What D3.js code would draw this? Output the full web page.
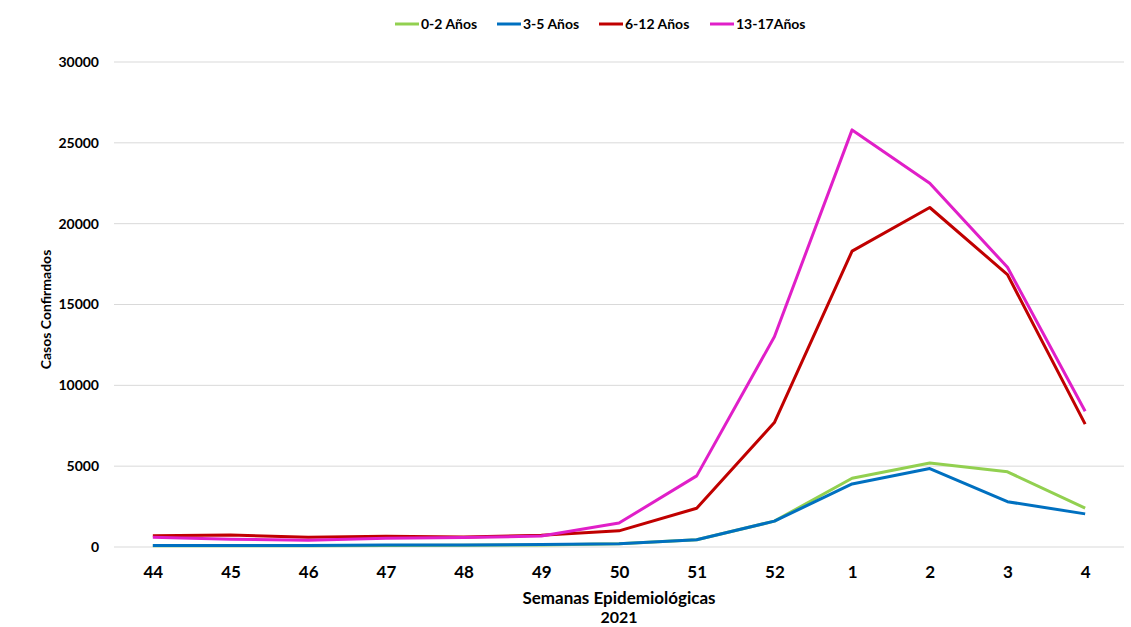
<!DOCTYPE html>
<html>
<head>
<meta charset="utf-8">
<script src="https://cdn.jsdelivr.net/npm/d3@7"></script>
<style>
  html, body { margin: 0; padding: 0; background: #fff; }
  svg { display: block; font-family: Lato, "Open Sans", sans-serif; font-weight: 700; }
</style>
</head>
<body>
<svg id="chart" width="1131" height="627"></svg>
<script>
const weeks = ["44","45","46","47","48","49","50","51","52","1","2","3","4"];
const seriesNames = ["0-2 Años","3-5 Años","6-12 Años","13-17Años"];
const seriesColors = ["#92D050","#0070C0","#C00000","#E01FC8"];
const age0_2   = [80, 80, 80, 100, 110, 130, 200, 450, 1600, 4250, 5200, 4650, 2400];
const age3_5   = [100, 100, 100, 120, 130, 150, 200, 450, 1600, 3900, 4850, 2800, 2050];
const age6_12  = [700, 740, 600, 660, 620, 730, 1000, 2400, 7700, 18300, 21000, 16850, 7600];
const age13_17 = [600, 480, 420, 540, 580, 680, 1480, 4400, 13000, 25800, 22500, 17300, 8400];
const yTicks = [0, 5000, 10000, 15000, 20000, 25000, 30000];

const seriesValues = [age0_2, age3_5, age6_12, age13_17];

(function () {
const svg = d3.select("#chart");
const mLeft = 114, mRight = 1124, mTop = 62, mBottom = 547;

const x = d3.scalePoint().domain(weeks).range([mLeft, mRight]).padding(0.5);
const y = d3.scaleLinear().domain([0, 30000]).range([mBottom, mTop]);

// gridlines
svg.append("g")
  .selectAll("line")
  .data(yTicks)
  .join("line")
  .attr("x1", mLeft).attr("x2", mRight)
  .attr("y1", d => y(d)).attr("y2", d => y(d))
  .attr("stroke", "#d9d9d9").attr("stroke-width", 1);

// y axis labels
const yAxis = d3.axisLeft(y).tickValues(yTicks).tickSize(0).tickPadding(15).tickFormat(d3.format("d"));
const gy = svg.append("g").attr("transform", `translate(${mLeft},0)`).call(yAxis);
gy.select(".domain").remove();
gy.selectAll("text").attr("font-size", 14).attr("font-family", "Lato, sans-serif").attr("font-weight", 700).attr("fill", "#000");

// x axis labels
const xAxis = d3.axisBottom(x).tickSize(0).tickPadding(19);
const gx = svg.append("g").attr("transform", `translate(0,${mBottom})`).call(xAxis);
gx.select(".domain").remove();
gx.selectAll("text").attr("font-size", 17).attr("font-family", "Lato, sans-serif").attr("font-weight", 700).attr("fill", "#000");

// lines
const line = d3.line().x((d, i) => x(weeks[i])).y(d => y(d));
seriesValues.forEach((vals, k) => {
  svg.append("path")
    .datum(vals)
    .attr("fill", "none")
    .attr("stroke", seriesColors[k])
    .attr("stroke-width", 3)
    .attr("stroke-linejoin", "round")
    .attr("d", line);
});

// axis titles
svg.append("text")
  .attr("x", (mLeft + mRight) / 2).attr("y", 604)
  .attr("text-anchor", "middle").attr("font-size", 17).attr("fill", "#000")
  .text("Semanas Epidemiológicas");
svg.append("text")
  .attr("x", (mLeft + mRight) / 2).attr("y", 623)
  .attr("text-anchor", "middle").attr("font-size", 16).attr("fill", "#000")
  .text("2021");
svg.append("text")
  .attr("transform", `translate(51,${(mTop + mBottom) / 2 + 5}) rotate(-90)`)
  .attr("text-anchor", "middle").attr("font-size", 14).attr("fill", "#000")
  .text("Casos Confirmados");

// legend
const legendX = [395, 497, 599, 710];
const lg = svg.append("g");
seriesNames.forEach((name, k) => {
  const g = lg.append("g").attr("transform", `translate(${legendX[k]},24)`);
  g.append("line").attr("x1", 0).attr("x2", 24).attr("y1", 0).attr("y2", 0)
    .attr("stroke", seriesColors[k]).attr("stroke-width", 3);
  g.append("text").attr("x", 26).attr("y", 5).attr("font-size", 14).attr("fill", "#000").text(name);
});
})();
</script>
</body>
</html>
